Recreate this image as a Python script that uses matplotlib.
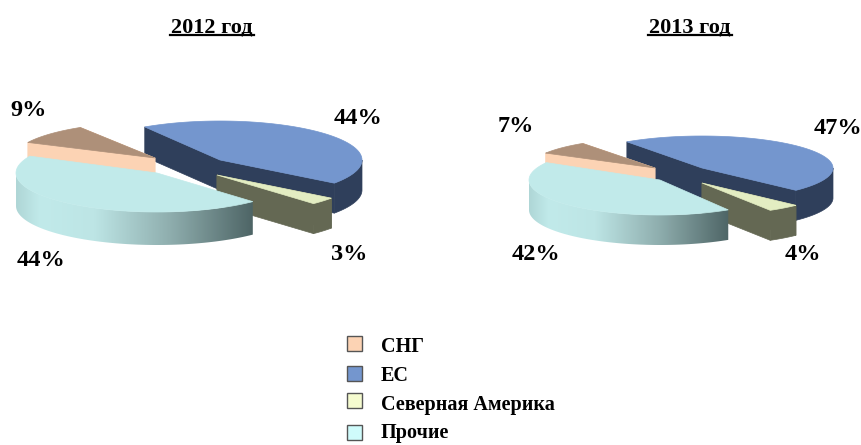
import numpy as np
import matplotlib
matplotlib.use("Agg")
import matplotlib.pyplot as plt
from matplotlib.colors import LinearSegmentedColormap
from matplotlib.patches import Polygon, Rectangle

plt.rcParams["font.family"] = ["Liberation Serif", "DejaVu Serif"]

categories = ["СНГ", "ЕС", "Северная Америка", "Прочие"]
values_2012 = [9, 44, 3, 44]
values_2013 = [7, 47, 4, 42]
titles = ["2012 год", "2013 год"]

top_colors = ["#AE9079", "#7496CE", "#E3EDC2", "#C1EAEA"]
side_colors = ["#FCD3B4", "#2F3F5B", "#646853", None]
legend_colors = ["#FCD3B4", "#7496CE", "#F5FBCF", "#CFFBFB"]

# apex of each slice in pixels, same order as categories
layout_2012 = {
  "start": 122,
  "centers": [(155, 158), (220, 160), (217, 175), (157, 173)],
  "radii": [(141, 36), (142, 39), (142, 39), (141, 39)],
  "depths": [17, 30, 30, 33],
}
layout_2013 = {
  "start": 125,
  "centers": [(655, 168), (702, 168), (702, 183), (660, 180)],
  "radii": [(126, 30), (131, 32), (131, 32), (131, 35)],
  "depths": [17, 30, 30, 30],
}
pct_2012 = [(29, 110), (358, 119), (349, 254), (41, 260)]
pct_2013 = [(516, 127), (838, 129), (803, 254), (536, 254)]
title_xy = [(212, 27), (690, 27)]

fig = plt.figure(figsize=(8.62, 4.45), dpi=100)
ax = fig.add_axes([0, 0, 1, 1])
ax.set_xlim(0, 862)
ax.set_ylim(445, 0)
ax.axis("off")

gradient = LinearSegmentedColormap.from_list(
  "side", [(0, "#AFD6D6"), (0.1, "#C1EAEA"), (0.33, "#BDE5E5"),
           (0.65, "#8FAEAE"), (1, "#4E6566")])


def arcPoints(center, radii, a0, a1):
  angles = np.radians(np.linspace(a0, a1, 80))
  return np.column_stack([center[0] + radii[0] * np.cos(angles),
                          center[1] - radii[1] * np.sin(angles)])


def frontBand(center, radii, a0, a1, shift):
  # only the part of the rim between 0 and -180 degrees faces the viewer
  start, end = min(a0, 0), max(a1, -180)
  if start <= end:
    return None
  rim = arcPoints(center, radii, start, end)
  return np.vstack([rim, (rim + shift)[::-1]])


def drawSlice(i, a0, a1, layout, z):
  center = layout["centers"][i]
  radii = layout["radii"][i]
  depth = layout["depths"][i]
  arc = arcPoints(center, radii, a0, a1)
  top = np.vstack([[center], arc])
  shift = np.array([0, depth])
  band = frontBand(center, radii, a0, a1, shift)

  if side_colors[i] is None:
    x0, x1 = band[:, 0].min(), band[:, 0].max()
    y0, y1 = band[:, 1].min(), band[:, 1].max()
    im = ax.imshow(np.linspace(0, 1, 256)[None, :], cmap=gradient, aspect="auto",
                   extent=(x0, x1, y1, y0), zorder=z, interpolation="bilinear")
    clip = Polygon(band, closed=True, transform=ax.transData, fc="none", ec="none")
    ax.add_patch(clip)
    im.set_clip_path(clip)
  else:
    walls = [
      np.array([center, arc[0], arc[0] + shift, center + shift]),
      np.array([center, arc[-1], arc[-1] + shift, center + shift]),
    ]
    if band is not None:
      walls.append(band)
    for wall in walls:
      ax.add_patch(Polygon(wall, closed=True, fc=side_colors[i], ec=side_colors[i],
                           lw=0.5, zorder=z))
  ax.add_patch(Polygon(top, closed=True, fc=top_colors[i], ec=top_colors[i],
                       lw=0.5, zorder=z + 0.5))


def drawPie(values, layout):
  # slices run clockwise starting with ЕС, the first category comes last
  a0 = layout["start"]
  spans = {}
  for i in [1, 2, 3, 0]:
    a1 = a0 - values[i] * 3.6
    spans[i] = (a0, a1)
    a0 = a1
  # back to front
  for z, i in enumerate([1, 0, 2, 3]):
    drawSlice(i, spans[i][0], spans[i][1], layout, 2 + z)


drawPie(values_2012, layout_2012)
drawPie(values_2013, layout_2013)

ax.set_xlim(0, 862)
ax.set_ylim(445, 0)

for values, places in [(values_2012, pct_2012), (values_2013, pct_2013)]:
  for v, (x, y) in zip(values, places):
    ax.text(x, y, f"{v}%", fontsize=17.5, fontweight="bold", color="black",
            ha="center", va="center", zorder=10)

for title, (x, y) in zip(titles, title_xy):
  ax.text(x, y, title, fontsize=16, fontweight="bold", color="black",
          ha="center", va="center", zorder=10)
  ax.plot([x - 42, x + 42], [y + 7.5, y + 7.5], color="black", lw=1.6, zorder=10)

legend_y = [343.5, 373, 400, 432]
text_y = [347, 376, 405, 433]
for name, color, sy, ty in zip(categories, legend_colors, legend_y, text_y):
  ax.add_patch(Rectangle((347, sy - 7.5), 15, 15, fc=color, ec="#555555", lw=1, zorder=5))
  ax.text(381, ty, name, fontsize=14.5, fontweight="bold", color="black",
          ha="left", va="center", zorder=10)

fig.savefig("out.png", dpi=100, facecolor="white")
